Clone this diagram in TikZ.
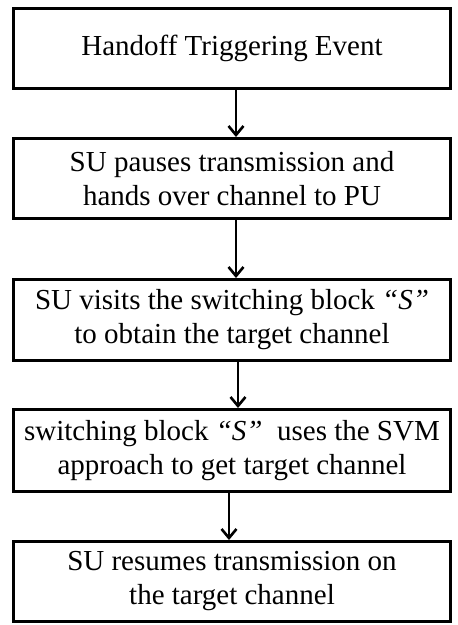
\documentclass[tikz,border=0pt]{standalone}
\usepackage{fontspec}
\setmainfont{Liberation Serif}
\usetikzlibrary{arrows.meta}

\begin{document}
\begin{tikzpicture}[x=1pt, y=-1pt,
        stage/.style={draw, line width=3pt, minimum width=437pt, inner sep=0pt, align=center, font=\fontsize{29}{34}\selectfont},
        flow/.style={line width=2.6pt, -{Straight Barb[length=9pt, width=15pt]}}]
        \useasboundingbox (0, 0) rectangle (458, 625);
        \node[stage, minimum height=80pt] (s1) at (232, 48.5) {Handoff Triggering Event};
        \node[stage, minimum height=80pt] (s2) at (232, 178.5) {SU pauses transmission and\\hands over channel to PU};
        \node[stage, minimum height=81pt] (s3) at (232, 320) {SU visits the switching block \textit{“S”}\\to obtain the target channel};
        \node[stage, minimum height=82pt] (s4) at (232, 450.5) {switching block \textit{“S”}\ \ uses the SVM\\approach to get target channel};
        \node[stage, minimum height=80pt] (s5) at (232, 581.5) {SU resumes transmission on\\the target channel};
        
        \draw[flow] ([xshift=4pt]s1.south) -- ([xshift=4pt]s2.north);
        \draw[flow] ([xshift=4pt]s2.south) -- ([xshift=4pt]s3.north);
        \draw[flow] ([xshift=6pt]s3.south) -- ([xshift=6pt]s4.north);
        \draw[flow] ([xshift=-3pt]s4.south) -- ([xshift=-3pt]s5.north);
    \end{tikzpicture}
\end{document}
